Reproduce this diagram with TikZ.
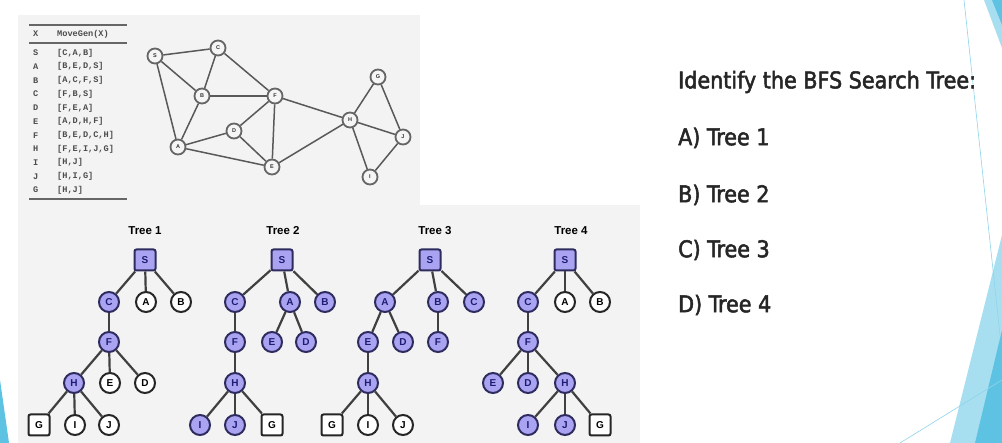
\documentclass[tikz,border=0pt]{standalone}
\usepackage{fontspec}
\setmainfont{DejaVu Sans}
\newfontfamily\qfont[FakeBold=2.2]{DejaVu Sans Condensed}
\newfontfamily\hfont{Liberation Sans}
\newfontfamily\mfont{Liberation Mono}
\definecolor{panel}{HTML}{F3F3F3}
\definecolor{purp}{HTML}{A9A3F2}
\definecolor{purpb}{HTML}{2E2C5E}
\definecolor{navy}{HTML}{1E1C70}
\definecolor{cyanA}{HTML}{5EC3E3}
\definecolor{cyanB}{HTML}{A8DFF0}
\tikzset{
  gnode/.style={circle, draw=black!60, line width=1.8pt, fill=white!96!black, inner sep=0pt, minimum size=15pt, font=\hfont\bfseries\fontsize{5.5}{5.5}\selectfont, text=black!80},
  gedge/.style={draw=black!65, line width=1.5pt},
  tnode/.style={circle, line width=2pt, minimum size=20pt, inner sep=0pt, font=\hfont\bfseries\fontsize{10}{10}\selectfont},
  pn/.style={tnode, fill=purp, draw=purpb, text=navy},
  wn/.style={tnode, fill=white, draw=black!85, text=black},
  sqbox/.style={rectangle, rounded corners=2pt, line width=2pt, minimum size=21pt, inner sep=0pt, font=\hfont\bfseries\fontsize{10}{10}\selectfont},
  sp/.style={sqbox, fill=purp, draw=purpb, text=navy},
  sw/.style={sqbox, fill=white, draw=black!85, text=black},
  tedge/.style={draw=black!75, line width=2.2pt},
  ttl/.style={font=\hfont\bfseries\fontsize{11.5}{11.5}\selectfont},
  tab/.style={font=\mfont\bfseries\fontsize{8.6}{8.6}\selectfont, text=black!70, anchor=west, inner sep=0pt},
  qtxt/.style={font=\qfont\fontsize{23}{23}\selectfont, text=black!85, anchor=west, inner sep=0pt},
}
\begin{document}
\begin{tikzpicture}[x=1pt,y=-1pt]
\useasboundingbox (0,0) rectangle (1002,443);
\fill[white] (0,0) rectangle (1002,443);
% panels
\fill[panel] (18,15) rectangle (420,205);
\fill[panel] (18,205) rectangle (640,443);
% decorations
\fill[cyanB] (984,0) -- (1002,0) -- (1002,48) -- cycle;
\fill[cyanA] (992,0) -- (1002,0) -- (1002,25) -- cycle;
\fill[cyanB] (1002,235) -- (950,443) -- (1002,443) -- cycle;
\fill[cyanA] (1002,330) -- (975,443) -- (1002,443) -- cycle;
\draw[cyanA!70, line width=0.6pt] (964,0) -- (1000,335);
\draw[cyanA!70, line width=0.6pt] (900,443) -- (1002,380);
\fill[cyanA] (0,380) -- (9,443) -- (0,443) -- cycle;
% table
\draw[black!60, line width=2pt] (29,25) -- (127,25);
\draw[black!60, line width=1.4pt] (29,43) -- (127,43);
\draw[black!60, line width=2pt] (29,199) -- (127,199);
\node[tab] (hx) at (33,34) {X};
\node[tab] (hm) at (57,34) {MoveGen(X)};
\foreach \v/\l [count=\k from 0] in {S/{[C,A,B]},A/{[B,E,D,S]},B/{[A,C,F,S]},C/{[F,B,S]},D/{[F,E,A]},E/{[A,D,H,F]},F/{[B,E,D,C,H]},H/{[F,E,I,J,G]},I/{[H,J]},J/{[H,I,G]},G/{[H,J]}}{
  \node[tab] (rv\k) at (33,53+13.7*\k) {\v};
  \node[tab] (rl\k) at (57,53+13.7*\k) {\l};
}
% graph
\node[gnode] (gS) at (155,56) {S};
\node[gnode] (gC) at (218,48) {C};
\node[gnode] (gB) at (202,96) {B};
\node[gnode] (gF) at (275,96) {F};
\node[gnode] (gD) at (234,131) {D};
\node[gnode] (gA) at (178,147) {A};
\node[gnode] (gE) at (272,167) {E};
\node[gnode] (gH) at (350,120) {H};
\node[gnode] (gG) at (378,77) {G};
\node[gnode] (gJ) at (403,137) {J};
\node[gnode] (gI) at (370,177) {I};
\foreach \a/\b in {S/C,S/B,S/A,C/B,C/F,B/F,B/A,A/D,A/E,D/F,D/E,F/E,F/H,E/H,H/G,H/J,H/I,G/J,J/I}
  \draw[gedge] (g\a) -- (g\b);
% titles
\node[ttl] (tt1) at (145,231) {Tree 1};
\node[ttl] (tt2) at (283,231) {Tree 2};
\node[ttl] (tt3) at (435,231) {Tree 3};
\node[ttl] (tt4) at (571,231) {Tree 4};
% Tree 1
\node[sp] (aS) at (145,260) {S};
\node[pn] (aC) at (109,302) {C};
\node[wn] (aA) at (146,302) {A};
\node[wn] (aB) at (181,302) {B};
\node[pn] (aF) at (109,342) {F};
\node[pn] (aH) at (74,383) {H};
\node[wn] (aE) at (110,383) {E};
\node[wn] (aD) at (145,383) {D};
\node[sw] (aG) at (39,425) {G};
\node[wn] (aI) at (75,425) {I};
\node[wn] (aJ) at (109,425) {J};
\foreach \p/\c in {S/C,S/A,S/B,C/F,F/H,F/E,F/D,H/G,H/I,H/J}
  \draw[tedge] (a\p) -- (a\c);
% Tree 2
\node[sp] (bS) at (282,260) {S};
\node[pn] (bC) at (235,302) {C};
\node[pn] (bA) at (290,302) {A};
\node[pn] (bB) at (325,302) {B};
\node[pn] (bF) at (235,342) {F};
\node[pn] (bE) at (272,342) {E};
\node[pn] (bD) at (306,342) {D};
\node[pn] (bH) at (235,383) {H};
\node[pn] (bI) at (200,425) {I};
\node[pn] (bJ) at (235,425) {J};
\node[sw] (bG) at (272,425) {G};
\foreach \p/\c in {S/C,S/A,S/B,C/F,A/E,A/D,F/H,H/I,H/J,H/G}
  \draw[tedge] (b\p) -- (b\c);
% Tree 3
\node[sp] (cS) at (430,260) {S};
\node[pn] (cA) at (385,302) {A};
\node[pn] (cB) at (438,302) {B};
\node[pn] (cC) at (474,302) {C};
\node[pn] (cE) at (368,342) {E};
\node[pn] (cD) at (403,342) {D};
\node[pn] (cF) at (438,342) {F};
\node[pn] (cH) at (368,383) {H};
\node[sw] (cG) at (332,425) {G};
\node[wn] (cI) at (368,425) {I};
\node[wn] (cJ) at (403,425) {J};
\foreach \p/\c in {S/A,S/B,S/C,A/E,A/D,B/F,E/H,H/G,H/I,H/J}
  \draw[tedge] (c\p) -- (c\c);
% Tree 4
\node[sp] (dS) at (565,260) {S};
\node[pn] (dC) at (528,302) {C};
\node[wn] (dA) at (565,302) {A};
\node[wn] (dB) at (600,302) {B};
\node[pn] (dF) at (528,342) {F};
\node[pn] (dE) at (493,383) {E};
\node[pn] (dD) at (528,383) {D};
\node[pn] (dH) at (565,383) {H};
\node[pn] (dI) at (528,425) {I};
\node[pn] (dJ) at (565,425) {J};
\node[sw] (dG) at (600,425) {G};
\foreach \p/\c in {S/C,S/A,S/B,C/F,F/E,F/D,F/H,H/I,H/J,H/G}
  \draw[tedge] (d\p) -- (d\c);
% question
\node[qtxt] (q0) at (678,82) {Identify the BFS Search Tree:};
\node[qtxt] (q1) at (678,138) {A) Tree 1};
\node[qtxt] (q2) at (678,195) {B) Tree 2};
\node[qtxt] (q3) at (678,250) {C) Tree 3};
\node[qtxt] (q4) at (678,305) {D) Tree 4};
\end{tikzpicture}
\end{document}
